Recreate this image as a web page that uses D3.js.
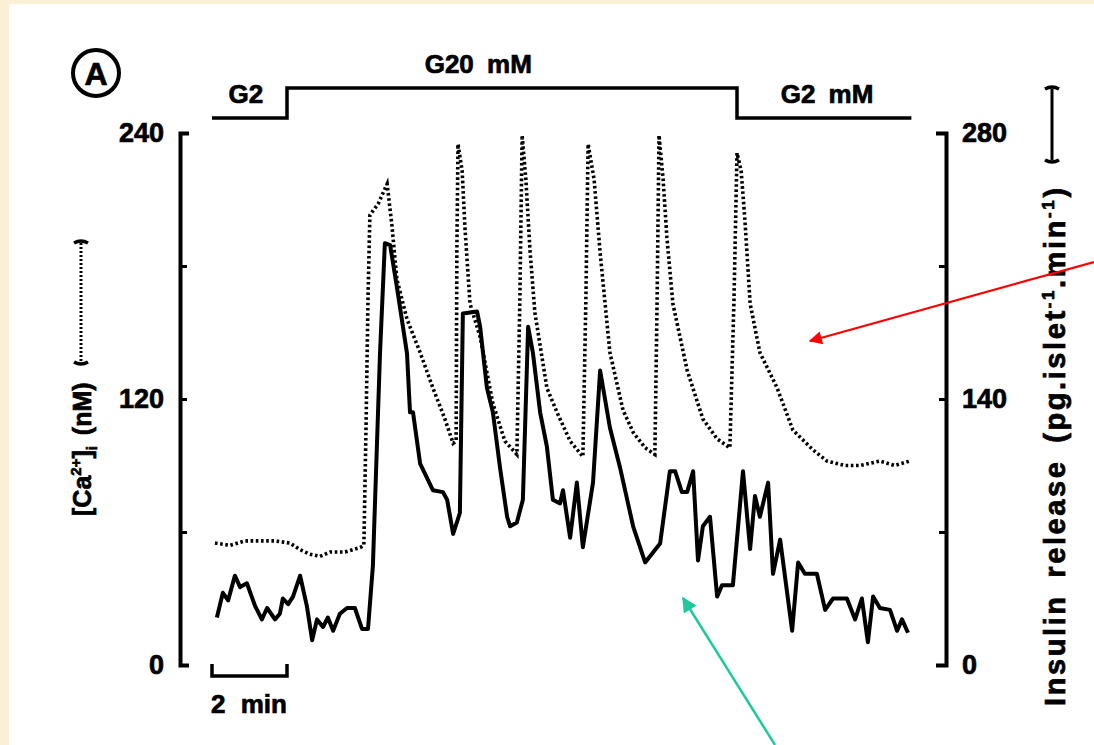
<!DOCTYPE html>
<html>
<head>
<meta charset="utf-8">
<script src="https://cdn.jsdelivr.net/npm/d3@7"></script>
<style>
  html,body{margin:0;padding:0;background:#fbefd6;}
  svg{display:block;}
  text{font-family:"Liberation Sans",Arial,sans-serif;font-weight:bold;fill:#000;stroke:#000;stroke-width:0.7px;}
</style>
</head>
<body>
<svg id="drawing_region"></svg>
<script>
// time in minutes, Ca in nM (left axis), insulin in pg/islet/min (right axis)
const caTime = [0.08,0.48,0.88,1.28,1.68,2.08,2.35,2.61,2.88,3.15,3.55,3.95,4.05,4.11,4.16,4.21,4.43,4.67,4.8,4.93,5.2,5.55,5.89,6.21,6.43,6.51,6.53,6.56,6.67,6.75,6.88,7.15,7.49,7.81,8.13,8.21,8.27,8.37,8.48,8.61,8.93,9.2,9.55,9.89,9.97,10.03,10.19,10.35,10.61,10.96,11.23,11.55,11.81,11.87,11.92,12.03,12.13,12.29,12.67,13.09,13.47,13.81,13.92,14.0,14.11,14.21,14.35,14.61,15.07,15.49,16.03,16.4,16.88,17.28,17.81,18.21,18.61]
const caValues = [55,54,56,56,56,55,52,50,49,51,51,53,54,110,165,203,208,217,198,174,156,141,125,111,100,101,187,235,223,196,163,148,118,101,95,165,239,219,187,159,125,114,101,94,165,235,219,186,141,115,105,98,95,165,239,219,193,163,133,111,102,98,165,231,223,201,163,141,125,106,97,92,90,90,92,90,92]

const insTime = [0.13,0.29,0.43,0.61,0.75,0.93,1.15,1.33,1.47,1.68,1.81,1.89,2.03,2.16,2.35,2.53,2.67,2.8,2.96,3.09,3.23,3.41,3.6,3.81,4.0,4.16,4.29,4.48,4.61,4.75,4.93,5.2,5.28,5.36,5.55,5.89,6.16,6.27,6.43,6.61,6.69,7.07,7.15,7.33,7.49,7.68,7.87,7.95,8.13,8.29,8.43,8.56,8.75,8.93,9.09,9.28,9.36,9.55,9.73,9.89,10.16,10.35,10.61,10.88,11.23,11.55,11.87,11.95,12.21,12.35,12.53,12.67,12.83,12.96,13.09,13.28,13.47,13.6,13.89,14.16,14.35,14.48,14.61,14.83,14.96,15.15,15.47,15.63,15.81,16.13,16.35,16.56,16.93,17.15,17.33,17.49,17.63,17.81,18.08,18.27,18.4,18.56]
const insValues = [25,38,34,47,41,43,31,24,30,24,27,35,32,36,47,31,13,24,20,25,18,27,30,30,19,19,52,164,222,221,199,164,133,133,106,92,91,87,69,80,185,186,178,146,133,104,78,73,75,87,178,164,133,115,87,85,92,67,96,62,96,155,125,104,73,54,62,64,102,102,91,91,102,55,73,78,36,42,42,102,61,89,78,96,48,66,18,54,48,48,29,35,35,24,35,12,36,30,29,18,24,17]

const glucoseTime = [0,2,14,18.65]
const glucoseLevel = [2,20,2,2]
const glucoseLabels = [{t:0.9,g:2,text:"G2"},{t:7.1,g:20,text:"G20 mM"},{t:16.4,g:2,text:"G2 mM"}]

const caTicks = [0,60,120,180,240]
const caTickLabels = [0,120,240]
const insTicks = [0,70,140,210,280]
const insTickLabels = [0,140,280]

const config = {
    width:1094,
    height:745,
    x0:212,
    minPx:37.5,
    top:133,
    bottom:665,
    leftAxis:180,
    rightAxis:946
}

const svg = d3.select("#drawing_region")
    .attr("width",config.width)
    .attr("height",config.height)

svg.append("rect")
    .attr("x",9).attr("y",4)
    .attr("width",config.width-9).attr("height",config.height-4)
    .attr("fill","#fff")

const xscale = d3.scaleLinear()
    .domain([0,18.65])
    .range([config.x0,config.x0+18.65*config.minPx])
const caScale = d3.scaleLinear()
    .domain([0,240])
    .range([config.bottom,config.top])
const insScale = d3.scaleLinear()
    .domain([0,280])
    .range([config.bottom,config.top])
const gScale = d3.scaleLinear()
    .domain([2,20])
    .range([118,88])

// left axis (Ca)
const caAxis = d3.axisLeft(caScale)
    .tickValues(caTicks)
    .tickSizeInner(-7)
    .tickSizeOuter(-9)
    .tickPadding(16)
    .tickFormat(d=>caTickLabels.includes(d)?d:"")
svg.append("g")
    .attr("transform",`translate(${config.leftAxis},0)`)
    .call(caAxis)

// right axis (insulin)
const insAxis = d3.axisRight(insScale)
    .tickValues(insTicks)
    .tickSizeInner(-7)
    .tickSizeOuter(-10)
    .tickPadding(16)
    .tickFormat(d=>insTickLabels.includes(d)?d:"")
svg.append("g")
    .attr("transform",`translate(${config.rightAxis},0)`)
    .call(insAxis)

svg.selectAll(".domain")
    .attr("stroke","#000").attr("stroke-width",4).attr("fill","none")
svg.selectAll(".tick line")
    .attr("stroke","#000").attr("stroke-width",3)
svg.selectAll(".tick text")
    .attr("font-size","27px")
    .attr("font-family","Liberation Sans, Arial, sans-serif")
    .attr("font-weight","bold")
    .attr("fill","#000")

// glucose protocol line
const glucoseData = glucoseTime.map((t,i)=>({t:t,g:glucoseLevel[i]}))
svg.append("path")
    .datum(glucoseData)
    .attr("d",d3.line().x(d=>xscale(d.t)).y(d=>gScale(d.g)).curve(d3.curveStepAfter))
    .attr("fill","none")
    .attr("stroke","#000")
    .attr("stroke-width",3.5)

svg.selectAll(".glabel")
    .data(glucoseLabels)
    .enter()
    .append("text")
    .attr("class","glabel")
    .attr("x",d=>xscale(d.t))
    .attr("y",d=>gScale(d.g)-15)
    .attr("text-anchor","middle")
    .attr("font-size","26px")
    .attr("word-spacing","6px")
    .text(d=>d.text)

// traces
const caData = caTime.map((t,i)=>({t:t,v:caValues[i]}))
const insData = insTime.map((t,i)=>({t:t,v:insValues[i]}))

svg.append("path")
    .datum(caData)
    .attr("d",d3.line().x(d=>xscale(d.t)).y(d=>caScale(d.v)))
    .attr("fill","none")
    .attr("stroke","#000")
    .attr("stroke-width",3.6)
    .attr("stroke-dasharray","2.6,2.6")

svg.append("path")
    .datum(insData)
    .attr("d",d3.line().x(d=>xscale(d.t)).y(d=>insScale(d.v)))
    .attr("fill","none")
    .attr("stroke","#000")
    .attr("stroke-width",4)
    .attr("stroke-linejoin","round")

// 2 min scale bar
const barY = 676
svg.append("path")
    .attr("d",`M${xscale(0)},${barY-12}V${barY}H${xscale(2)}V${barY-12}`)
    .attr("fill","none")
    .attr("stroke","#000")
    .attr("stroke-width",3.5)
svg.append("text")
    .attr("x",xscale(0)-1)
    .attr("y",713)
    .attr("font-size","26px")
    .attr("word-spacing","8px")
    .text("2 min")

// panel letter
svg.append("circle")
    .attr("cx",96).attr("cy",73).attr("r",23)
    .attr("fill","none").attr("stroke","#000").attr("stroke-width",4)
svg.append("text")
    .attr("x",96).attr("y",85)
    .attr("text-anchor","middle")
    .attr("font-size","32px")
    .text("A")

// axis titles with line-style keys
function legendKey(x,y1,y2,dashed){
    const g = svg.append("g")
    g.append("path")
        .attr("d",`M${x-7},${y1}Q${x},${y1-4} ${x+7},${y1}M${x-7},${y2}Q${x},${y2+4} ${x+7},${y2}`)
        .attr("fill","none").attr("stroke","#000").attr("stroke-width",3.5)
    g.append("path")
        .attr("d",`M${x},${y1}V${y2}`)
        .attr("stroke","#000").attr("stroke-width",3)
        .attr("stroke-dasharray",dashed?"2,2":null)
}

const caTitle = svg.append("text")
    .attr("transform","translate(91,516) rotate(-90)")
    .attr("font-size","25px")
    .attr("word-spacing","4px")
caTitle.append("tspan").text("[Ca")
caTitle.append("tspan").attr("font-size","15px").attr("dy","-10").text("2+")
caTitle.append("tspan").attr("dy","10").text("]")
caTitle.append("tspan").attr("font-size","15px").attr("dy","6").text("i")
caTitle.append("tspan").attr("dy","-6").text(" (nM)")
legendKey(81,243,362,true)

const insTitle = svg.append("text")
    .attr("transform","translate(1065,706) rotate(-90)")
    .attr("font-size","29px")
    .attr("letter-spacing","2.6px")
    .attr("word-spacing","6px")
insTitle.append("tspan").text("Insulin release (pg.islet")
insTitle.append("tspan").attr("font-size","17px").attr("dy","-11").text("-1")
insTitle.append("tspan").attr("dy","11").text(".min")
insTitle.append("tspan").attr("font-size","17px").attr("dy","-11").text("-1")
insTitle.append("tspan").attr("dy","11").text(")")
legendKey(1052,89,160,false)

// annotation arrows
const defs = svg.append("defs")
function arrowMarker(id,color){
    defs.append("marker")
        .attr("id",id)
        .attr("viewBox","0 0 10 10")
        .attr("refX",9).attr("refY",5)
        .attr("markerWidth",9).attr("markerHeight",6)
        .attr("orient","auto")
        .attr("markerUnits","strokeWidth")
        .append("path")
        .attr("d","M0,0L10,5L0,10Z")
        .attr("fill",color)
}
arrowMarker("redhead","#f00")
arrowMarker("greenhead","#1fc99c")
svg.append("line")
    .attr("x1",1094).attr("y1",262).attr("x2",810).attr("y2",341)
    .attr("stroke","#f00").attr("stroke-width",2.2)
    .attr("marker-end","url(#redhead)")
svg.append("line")
    .attr("x1",775).attr("y1",745).attr("x2",683).attr("y2",598)
    .attr("stroke","#1fc99c").attr("stroke-width",2.5)
    .attr("marker-end","url(#greenhead)")
</script>
</body>
</html>
